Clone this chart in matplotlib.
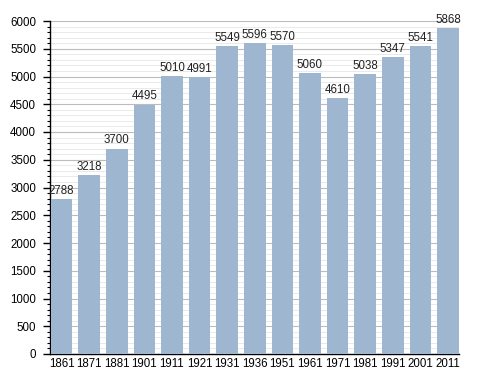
import numpy as np
import matplotlib
matplotlib.use("Agg")
import matplotlib.pyplot as plt
from matplotlib.ticker import MultipleLocator

plt.rcParams["font.family"] = ["Liberation Sans", "DejaVu Sans"]

years = ["1861", "1871", "1881", "1901", "1911", "1921", "1931", "1936",
         "1951", "1961", "1971", "1981", "1991", "2001", "2011"]
population = [2788, 3218, 3700, 4495, 5010, 4991, 5549, 5596,
              5570, 5060, 4610, 5038, 5347, 5541, 5868]

fig = plt.figure(figsize=(4.88, 3.73), dpi=100)
ax = fig.add_axes([50 / 488, 19 / 373, 409 / 488, 333 / 373])

x = np.arange(len(years))
bars = ax.bar(x, population, width=0.78, color="#9fb6d1", zorder=3)

# value labels above each bar
for xi, v in zip(x, population):
    ax.text(xi, v + 40, str(v), ha="center", va="bottom", fontsize=8.3,
            color="#222222", zorder=4)

ax.set_xlim(-0.42, len(years) - 0.6)
ax.set_ylim(0, 6000)
ax.set_xticks(x)
ax.set_xticklabels(years, fontsize=8.3)
ax.yaxis.set_major_locator(MultipleLocator(500))
ax.yaxis.set_minor_locator(MultipleLocator(100))
ax.tick_params(axis="y", labelsize=8.3, length=5, width=1, pad=5)
ax.tick_params(axis="y", which="minor", length=2.5, width=0.8)
ax.tick_params(axis="x", length=0, pad=3)

ax.grid(axis="y", which="major", color="#bcbcbc", linewidth=0.8, zorder=0)
ax.grid(axis="y", which="minor", color="#e6e6e6", linewidth=0.6, zorder=0)

for s in ["top", "right"]:
    ax.spines[s].set_visible(False)
ax.spines["left"].set_linewidth(1)
ax.spines["bottom"].set_linewidth(1)

fig.savefig("out.png", dpi=100)
